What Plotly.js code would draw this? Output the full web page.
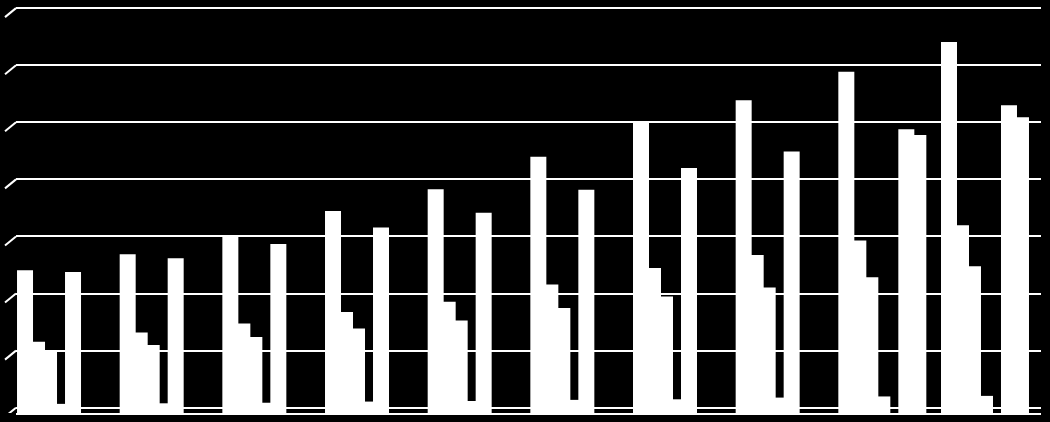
<!DOCTYPE html>
<html>
<head>
<meta charset="utf-8">
<script src="https://cdn.plot.ly/plotly-3.0.1.min.js"></script>
<style>
  html, body { margin: 0; padding: 0; background: #000; }
  #chart { width: 1050px; height: 422px; }
</style>
</head>
<body>
<div id="chart"></div>
<script>
/* ===== data (grid step = 1) ===== */
const groups = ["1", "2", "3", "4", "5", "6", "7", "8", "9", "10"];

const s1 = [2.50, 2.78, 3.11, 3.54, 3.92, 4.49, 5.08, 5.48, 5.98, 6.50];
const s2 = [1.25, 1.41, 1.57, 1.77, 1.95, 2.25, 2.54, 2.77, 3.02, 3.29];
const s3 = [1.09, 1.19, 1.33, 1.48, 1.62, 1.84, 2.04, 2.20, 2.38, 2.57];
const s4 = [0.16, 0.17, 0.18, 0.20, 0.21, 0.23, 0.24, 0.27, 0.29, 0.30];
const s5 = [2.47, 2.71, 2.96, 3.25, 3.51, 3.91, 4.29, 4.58, 0, 0];
const s6 = [0, 0, 0, 0, 0, 0, 0, 0, 4.97, 5.39];
const s7 = [0, 0, 0, 0, 0, 0, 0, 0, 4.87, 5.18];

const series = [s1, s2, s3, s4, s5, s6, s7];

/* ===== layout helpers ===== */
// one category = ~102.7px, front face 12px, 3d depth adds ~4px
const PX = 102.67;
const gridVals = [0.093, 1.093, 2.093, 3.093, 4.093, 5.093, 6.093, 7.093];

const traces = series.map((vals, k) => ({
  type: "bar",
  x: groups.map((g, i) => i),
  y: vals,
  width: 16 / PX,
  offset: (-42 + 12 * k) / PX,
  marker: { color: "#ffffff", line: { width: 0 } },
  hoverinfo: "y",
  showlegend: false,
}));

// little slanted wall edges at the left end of every gridline
const shapes = gridVals.map((v) => ({
  type: "line",
  xref: "paper",
  yref: "y",
  x0: -11 / 1025,
  y0: v - 9 / 57.1,
  x1: 0,
  y1: v,
  line: { color: "#ffffff", width: 2 },
}));

Plotly.newPlot(
  "chart",
  traces,
  {
    width: 1050,
    height: 422,
    paper_bgcolor: "#000000",
    plot_bgcolor: "#000000",
    barmode: "overlay",
    margin: { l: 16, r: 9, t: 6, b: 9 },
    xaxis: {
      range: [-0.419, 9.565],
      showgrid: false,
      showticklabels: false,
      ticks: "",
      showline: true,
      linecolor: "#ffffff",
      linewidth: 2,
      zeroline: false,
      fixedrange: true,
    },
    yaxis: {
      range: [0, 7.13],
      tickmode: "array",
      tickvals: gridVals,
      showticklabels: false,
      ticks: "",
      showgrid: true,
      gridcolor: "#ffffff",
      gridwidth: 2,
      zeroline: false,
      showline: false,
      fixedrange: true,
    },
    shapes: shapes,
  },
  { displayModeBar: false, staticPlot: true }
);
</script>
</body>
</html>
